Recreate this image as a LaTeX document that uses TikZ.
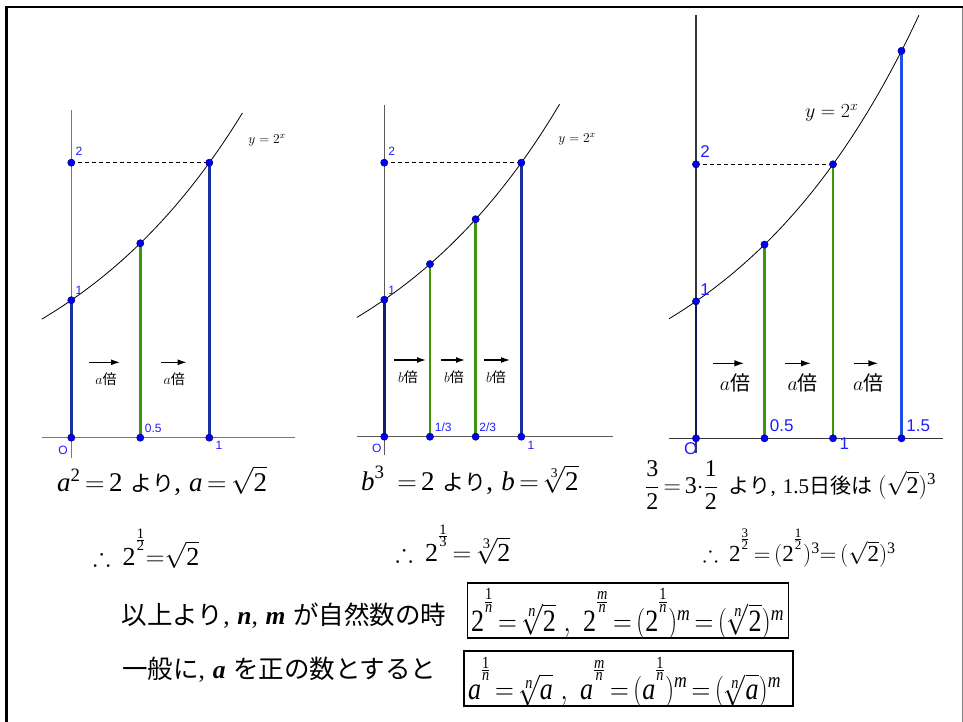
\RequirePackage{fix-cm}
\documentclass[tikz,border=0pt]{standalone}
\usepackage{amsmath,amssymb}
\usepackage{graphicx}
\usepackage{fontspec}
\newfontfamily\jp{Noto Sans CJK JP}
\newfontfamily\tms{Liberation Serif}
\newfontfamily\lsans{Liberation Sans}
\usetikzlibrary{arrows.meta}
\DeclareMathSizes{31}{31}{21}{17}
\DeclareMathSizes{26}{26}{18}{14.5}
\DeclareMathSizes{23}{23}{16}{13}
\newcommand{\Tn}[1]{\text{\tms #1}}
\newcommand{\Ti}[1]{\text{\tms\itshape #1}}
\newcommand{\ex}[2]{^{\raisebox{0.42em}{$\scriptscriptstyle\frac{#1}{#2}$}}}
\newcommand{\tight}{\thickmuskip=3mu\medmuskip=2mu}
\definecolor{navyA}{RGB}{24,48,160}
\definecolor{navyB}{RGB}{20,30,110}
\definecolor{navyC}{RGB}{12,24,80}
\definecolor{brightblue}{RGB}{30,80,230}
\definecolor{seggreen}{RGB}{60,150,10}
\definecolor{dotblue}{RGB}{0,0,250}
\definecolor{dotrim}{RGB}{0,0,110}
\definecolor{labblue}{RGB}{30,30,255}
\definecolor{axA}{RGB}{120,120,120}
\definecolor{axB}{RGB}{90,90,90}
\definecolor{axC}{RGB}{55,55,55}
\begin{document}
\begin{tikzpicture}[x=1pt,y=-1pt,
  seg/.style={line width=2.6pt},
  curve/.style={line width=0.8pt, black},
  dashline/.style={line width=0.8pt, dash pattern=on 4pt off 3pt},
  dot/.style={circle, fill=dotblue, draw=dotrim, line width=0.5pt, inner sep=0pt, minimum size=7.2pt},
  labS/.style={text=labblue, font=\lsans\fontsize{12}{14}\selectfont, inner sep=0pt},
  labL/.style={text=labblue, font=\lsans\fontsize{17}{20}\selectfont, inner sep=0pt},
  arr/.style={line width=1.3pt, -{Latex[length=9pt,width=6pt]}},
  arrL/.style={line width=1.4pt, -{Latex[length=10pt,width=6.5pt]}},
  baiS/.style={font=\fontsize{14}{16}\selectfont, inner sep=0pt},
  baiL/.style={font=\fontsize{20}{22}\selectfont, inner sep=0pt},
  txt/.style={anchor=base west, inner sep=0pt},
  boxframe/.style={draw, line width=1.5pt, anchor=north west, inner sep=0pt, minimum height=55pt}
]
\useasboundingbox (0,0) rectangle (963,722);
\fill[white] (0,0) rectangle (963,722);
% frame
\draw[line width=2.6pt] (6.2,722) -- (6.2,7) -- (963,7);
\draw[gray, line width=1pt] (962.3,8.5) -- (962.3,722);

% ---------------- panel 1 ----------------
\begin{scope}[shift={(71.3,437.7)}, x=138pt, y=137.5pt]
  \draw[axA, line width=1.1pt] (-0.212,0) -- (1.62,0);
  \draw[axA, line width=1.1pt] (0,-0.148) -- (0,2.383);
  \draw[curve] plot[domain=-0.214:1.24, samples=70] (\x,{pow(2,\x)});
  \coordinate (o1) at (0,0);
  \coordinate (h1) at (0.5,0);
  \coordinate (u1) at (1,0);
  \coordinate (ya1) at (0,1);
  \coordinate (yb1) at (0,2);
  \coordinate (ch1) at (0.5,{sqrt(2)});
  \coordinate (cu1) at (1,2);
  \draw[dashline] (yb1) -- (cu1);
  \draw[seg, navyA] (o1) -- (ya1);
  \draw[seg, navyA] (u1) -- (cu1);
  \draw[seg, seggreen] (h1) -- (ch1);
  \foreach \p in {o1,h1,u1,ya1,yb1,ch1,cu1} \node[dot] (d-\p) at (\p) {};
\end{scope}
\node[labS] (l1-2) at (79,151.7) {2};
\node[labS] (l1-1) at (79,290.7) {1};
\node[labS] (l1-o) at (63,450) {O};
\node[labS] (l1-h) at (153.3,428.3) {0.5};
\node[labS] (l1-u) at (219,445) {1};
\node[inner sep=0pt, font=\fontsize{13.5}{15}\selectfont] (f1) at (267,140) {$y=2^x$};
\coordinate (a1s) at (89,362.3);   \coordinate (a1e) at (120,362.3);
\coordinate (a2s) at (161,362.3);  \coordinate (a2e) at (186.7,362.3);
\draw[arr] (a1s) -- (a1e);
\draw[arr] (a2s) -- (a2e);
\node[baiS] (b1-1) at (106,379.3) {$a${\jp 倍}};
\node[baiS] (b1-2) at (174.3,379.3) {$a${\jp 倍}};

% ---------------- panel 2 ----------------
\begin{scope}[shift={(384.3,436.7)}, x=137pt, y=137pt]
  \draw[axB, line width=1.1pt] (-0.199,0) -- (1.669,0);
  \draw[axB, line width=1.1pt] (0,-0.134) -- (0,2.421);
  \draw[curve] plot[domain=-0.2:1.28, samples=70] (\x,{pow(2,\x)});
  \coordinate (o2) at (0,0);
  \coordinate (t12) at ({1/3},0);
  \coordinate (t22) at ({2/3},0);
  \coordinate (u2) at (1,0);
  \coordinate (ya2) at (0,1);
  \coordinate (yb2) at (0,2);
  \coordinate (ct12) at ({1/3},{pow(2,1/3)});
  \coordinate (ct22) at ({2/3},{pow(2,2/3)});
  \coordinate (cu2) at (1,2);
  \draw[dashline] (yb2) -- (cu2);
  \draw[seg, navyB] (o2) -- (ya2);
  \draw[seg, navyA] (u2) -- (cu2);
  \draw[seg, seggreen] (t12) -- (ct12);
  \draw[seg, seggreen] (t22) -- (ct22);
  \foreach \p in {o2,t12,t22,u2,ya2,yb2,ct12,ct22,cu2} \node[dot] (d-\p) at (\p) {};
\end{scope}
\node[labS] (l2-2) at (391.7,151.7) {2};
\node[labS] (l2-1) at (391.7,290) {1};
\node[labS] (l2-o) at (376.7,448) {O};
\node[labS] (l2-t1) at (443.3,427.7) {1/3};
\node[labS] (l2-t2) at (487.7,427.7) {2/3};
\node[labS] (l2-u) at (531,445) {1};
\node[inner sep=0pt, font=\fontsize{13.5}{15}\selectfont] (f2) at (577,139) {$y=2^x$};
\coordinate (a3s) at (394,360);  \coordinate (a3e) at (426,360);
\coordinate (a4s) at (441,360);  \coordinate (a4e) at (465,360);
\coordinate (a5s) at (484,360);  \coordinate (a5e) at (510,360);
\draw[arr] (a3s) -- (a3e);
\draw[arr] (a4s) -- (a4e);
\draw[arr] (a5s) -- (a5e);
\node[baiS] (b2-1) at (408,377) {$b${\jp 倍}};
\node[baiS] (b2-2) at (454,377) {$b${\jp 倍}};
\node[baiS] (b2-3) at (496,377) {$b${\jp 倍}};

% ---------------- panel 3 ----------------
\begin{scope}[shift={(696,438.3)}, x=137pt, y=137pt]
  \draw[axC, line width=1.1pt] (-0.197,0) -- (1.80,0);
  \draw[axC, line width=1.1pt] (0,-0.107) -- (0,3.09);
  \draw[curve] plot[domain=-0.197:1.627, samples=80] (\x,{pow(2,\x)});
  \coordinate (o3) at (0,0);
  \coordinate (h3) at (0.5,0);
  \coordinate (u3) at (1,0);
  \coordinate (f3) at (1.5,0);
  \coordinate (ya3) at (0,1);
  \coordinate (yb3) at (0,2);
  \coordinate (ch3) at (0.5,{sqrt(2)});
  \coordinate (cu3) at (1,2);
  \coordinate (cf3) at (1.5,{pow(2,1.5)});
  \draw[dashline] (yb3) -- (cu3);
  \draw[seg, navyC] (o3) -- (ya3);
  \draw[seg, seggreen] (h3) -- (ch3);
  \draw[seg, seggreen] (u3) -- (cu3);
  \draw[seg, brightblue] (f3) -- (cf3);
  \foreach \p in {o3,h3,u3,f3,ya3,yb3,ch3,cu3,cf3} \node[dot] (d-\p) at (\p) {};
\end{scope}
\node[labL] (l3-2) at (705,151.7) {2};
\node[labL] (l3-1) at (705,290) {1};
\node[labL] (l3-o) at (690.7,448.3) {O};
\node[labL] (l3-h) at (781.7,426) {0.5};
\node[labL] (l3-u) at (844.3,443.3) {1};
\node[labL] (l3-f) at (918.3,426) {1.5};
\node[inner sep=0pt, font=\fontsize{20}{22}\selectfont] (f3l) at (831.7,113.3) {$y=2^x$};
\coordinate (a6s) at (713.3,363.3);  \coordinate (a6e) at (744.3,363.3);
\coordinate (a7s) at (785,363.3);    \coordinate (a7e) at (811,363.3);
\coordinate (a8s) at (854,363.3);    \coordinate (a8e) at (878.3,363.3);
\draw[arrL] (a6s) -- (a6e);
\draw[arrL] (a7s) -- (a7e);
\draw[arrL] (a8s) -- (a8e);
\node[baiL] (b3-1) at (735,383.3) {$a${\jp 倍}};
\node[baiL] (b3-2) at (802.7,383.3) {$a${\jp 倍}};
\node[baiL] (b3-3) at (868.3,383.3) {$a${\jp 倍}};

% ---------------- texts ----------------
\node[txt, font=\fontsize{27}{32}\selectfont] (ta1) at (57,491)
  {$\tight\Ti{a}^{\Tn{2}} = \Tn{2}$ {\jp\fontsize{22}{26}\selectfont より}{\tms ,} $\tight\Ti{a} = \sqrt{\Tn{2}}$};
\node[txt, font=\fontsize{26}{32}\selectfont] (tb1) at (93,565)
  {$\tight\therefore\ \Tn{2}\ex{\Tn{1}}{\Tn{2}}\!=\!\sqrt{\Tn{2}}$};
\node[txt, font=\fontsize{27}{32}\selectfont] (ta2) at (361,490)
  {$\tight\Ti{b}^{\Tn{3}}\ = \Tn{2}$ {\jp\fontsize{22}{26}\selectfont より}{\tms ,} $\tight\Ti{b} = \sqrt[\Tn{3}]{\Tn{2}}$};
\node[txt, font=\fontsize{26}{32}\selectfont] (tb2) at (395.5,561)
  {$\tight\therefore\ \Tn{2}\ex{\Tn{1}}{\Tn{3}} = \sqrt[\Tn{3}]{\Tn{2}}$};
\node[txt, font=\fontsize{24}{28}\selectfont] (ta3) at (645,493)
  {$\tight\dfrac{\Tn{3}}{\Tn{2}} = \Tn{3}{\cdot}\dfrac{\Tn{1}}{\Tn{2}}$\hspace{11pt}{\fontsize{21}{24}\selectfont{\jp より}{\tms ,}\hspace{7pt}{\tms 1.5}{\jp 日後は}}\hspace{6pt}$(\sqrt{\Tn{2}})^{\Tn{3}}$};
\node[txt, font=\fontsize{23}{28}\selectfont] (tb3) at (702.7,561.7)
  {$\tight\therefore\ \Tn{2}\ex{\Tn{3}}{\Tn{2}} = (\Tn{2}\ex{\Tn{1}}{\Tn{2}})^{\Tn{3}}\!= (\sqrt{\Tn{2}})^{\Tn{3}}$};

\node[txt, font=\fontsize{25.5}{28}\selectfont] (tc1) at (121.7,624)
  {{\jp 以上より}{\tms ,} {\tms\bfseries\itshape n}{\tms ,} {\tms\bfseries\itshape m} {\jp が自然数の時}};
\node[txt, font=\fontsize{25.5}{28}\selectfont] (tc2) at (122,678)
  {{\jp 一般に}{\tms ,} {\tms\bfseries\itshape a} {\jp を正の数とすると}};

\node[boxframe, minimum width=321pt] (box1) at (466.7,582) {};
\node[boxframe, minimum width=329pt] (box2) at (463,650) {};
\node[txt, font=\fontsize{31}{34}\selectfont] (fm1) at (471,631.7)
  {\scalebox{0.84}[1]{$\tight\Tn{2}\ex{\Tn{1}}{\Ti{n}} = \sqrt[\Ti{n}]{\Tn{2}}\ ,\ \Tn{2}\ex{\Ti{m}}{\Ti{n}} = (\Tn{2}\ex{\Tn{1}}{\Ti{n}})^{\Ti{m}} = (\sqrt[\Ti{n}]{\Tn{2}})^{\Ti{m}}$}};
\node[txt, font=\fontsize{31}{34}\selectfont] (fm2) at (468,699)
  {\scalebox{0.84}[1]{$\tight\Ti{a}\ex{\Tn{1}}{\Ti{n}} = \sqrt[\Ti{n}]{\Ti{a}}\ ,\ \Ti{a}\ex{\Ti{m}}{\Ti{n}} = (\Ti{a}\ex{\Tn{1}}{\Ti{n}})^{\Ti{m}} = (\sqrt[\Ti{n}]{\Ti{a}})^{\Ti{m}}$}};
\end{tikzpicture}
\end{document}
